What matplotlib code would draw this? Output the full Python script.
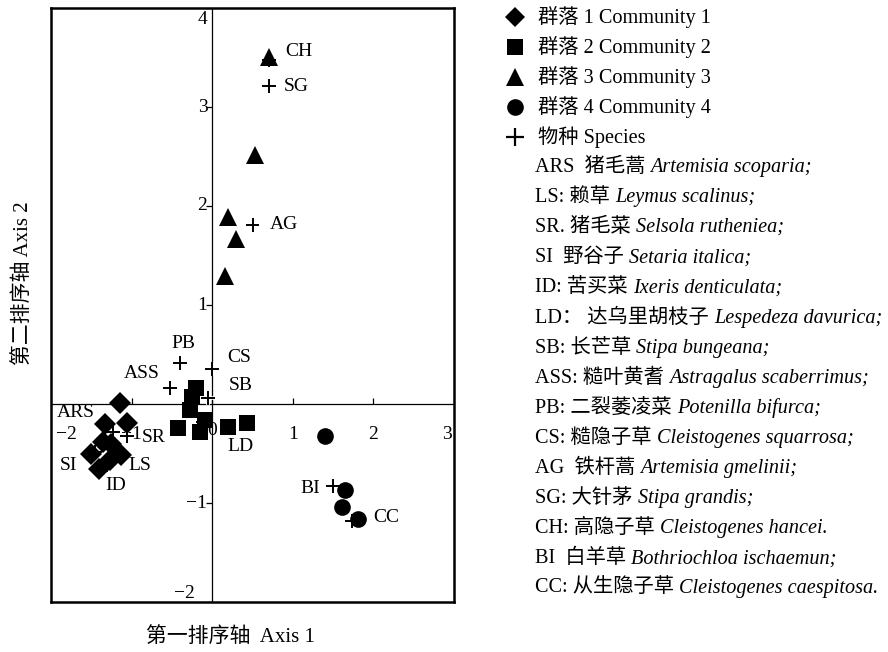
import matplotlib
matplotlib.use("Agg")
import matplotlib.pyplot as plt
import matplotlib.patheffects as pe
from matplotlib.markers import TICKLEFT, TICKUP

plt.rcParams['font.family'] = ['Liberation Serif', 'Noto Sans CJK SC']
plt.rcParams['font.size'] = 14

# DCA ordination scores of the sample plots, by community
c1_x = [-1.14, -1.33, -1.06, -1.25, -1.50, -1.13, -1.40, -1.27, -1.35]
c1_y = [0.01, -0.20, -0.19, -0.40, -0.50, -0.52, -0.66, -0.57, -0.38]
c2_x = [-0.43, -0.25, -0.20, -0.27, -0.15, 0.20, 0.43, -0.09]
c2_y = [-0.24, 0.07, 0.16, -0.06, -0.28, -0.23, -0.19, -0.16]
c3_x = [0.70, 0.53, 0.20, 0.30, 0.16]
c3_y = [3.51, 2.52, 1.89, 1.67, 1.29]
c4_x = [1.40, 1.65, 1.61, 1.81]
c4_y = [-0.32, -0.87, -1.04, -1.16]

# species scores
species = ['ARS', 'LS', 'SR', 'SI', 'ID', 'LD', 'SB', 'ASS', 'PB', 'CS',
           'AG', 'SG', 'CH', 'BI', 'CC']
sp_x = [-1.23, -1.14, -1.06, -1.45, -1.30, -0.12, -0.05, -0.52, -0.40, 0.00,
        0.50, 0.70, 0.70, 1.50, 1.74]
sp_y = [-0.28, -0.52, -0.32, -0.48, -0.62, -0.18, 0.06, 0.16, 0.41, 0.35,
        1.81, 3.21, 3.47, -0.83, -1.18]
# where each species code is written
lab_x = [-1.93, -1.04, -0.87, -1.89, -1.33, 0.19, 0.20, -0.65, -0.36, 0.19,
         0.72, 0.89, 0.91, 1.34, 2.00]
lab_y = [-0.09, -0.62, -0.34, -0.62, -0.82, -0.43, 0.19, 0.31, 0.61, 0.47,
         1.81, 3.21, 3.56, -0.85, -1.15]
lab_ha = ['left', 'left', 'left', 'left', 'left', 'left', 'left', 'right',
          'center', 'left', 'left', 'left', 'left', 'right', 'left']

x_ticks = [-2, -1, 0, 1, 2, 3]
y_ticks = [-2, -1, 1, 2, 3, 4]

communities = ['群落 1 Community 1', '群落 2 Community 2',
               '群落 3 Community 3', '群落 4 Community 4']
species_head = '物种 Species'
sp_cn = ['ARS  猪毛蒿 ', 'LS: 赖草 ', 'SR. 猪毛菜 ', 'SI  野谷子 ', 'ID: 苦买菜 ',
         'LD： 达乌里胡枝子 ', 'SB: 长芒草 ', 'ASS: 糙叶黄耆 ', 'PB: 二裂萎凌菜 ',
         'CS: 糙隐子草 ', 'AG  铁杆蒿 ', 'SG: 大针茅 ', 'CH: 高隐子草 ',
         'BI  白羊草 ', 'CC: 从生隐子草 ']
sp_latin = ['Artemisia scoparia;', 'Leymus scalinus;', 'Selsola rutheniea;',
            'Setaria italica;', 'Ixeris denticulata;', 'Lespedeza davurica;',
            'Stipa bungeana;', 'Astragalus scaberrimus;', 'Potenilla bifurca;',
            'Cleistogenes squarrosa;', 'Artemisia gmelinii;', 'Stipa grandis;',
            'Cleistogenes hancei.', 'Bothriochloa ischaemun;',
            'Cleistogenes caespitosa.']

fig = plt.figure(figsize=(8.88, 6.52), dpi=100)
ax = fig.add_axes([51 / 888, 50 / 652, 403 / 888, 594 / 652])
ax.set_xlim(-2, 3)
ax.set_ylim(-2, 4)
ax.set_xticks([])
ax.set_yticks([])
for s in ax.spines.values():
    s.set_linewidth(1.8)

# axes through the origin
ax.axhline(0, color='black', lw=0.9, zorder=1)
ax.axvline(0, color='black', lw=0.9, zorder=1)
ax.plot([0] * len(y_ticks), y_ticks, ls='none', marker=TICKLEFT, ms=4,
        mew=0.9, color='black', zorder=1)
ax.plot(x_ticks, [0] * len(x_ticks), ls='none', marker=TICKUP, ms=4,
        mew=0.9, color='black', zorder=1)
for v in x_ticks:
    if v == -2:
        ax.text(-1.81, -0.31, '−2', ha='center', va='center', zorder=1)
    elif v == 3:
        ax.text(2.91, -0.31, '3', ha='center', va='center', zorder=1)
    elif v == 0:
        ax.text(0.0, -0.27, '0', ha='center', va='center', zorder=1)
    else:
        ax.text(v, -0.31, '−1' if v == -1 else str(v), ha='center',
                va='center', zorder=1)
for v in y_ticks:
    if v == 4:
        ax.text(-0.06, 3.88, '4', ha='right', va='center')
    elif v == -2:
        ax.text(-0.21, -2.0, '−2', ha='right', va='bottom')
    else:
        ax.text(-0.06, v, '−1' if v == -1 else str(v), ha='right', va='center')

# species crosses sit under the plot symbols, with a thin white rim
halo = [pe.Stroke(linewidth=2.6, foreground='white'), pe.Normal()]
ax.plot(sp_x, sp_y, ls='none', marker='+', ms=10, color='black', mew=1.4,
        zorder=2, path_effects=halo)
ax.plot(c1_x, c1_y, ls='none', marker='D', ms=11, color='black', mew=0, zorder=3)
ax.plot(c2_x, c2_y, ls='none', marker='s', ms=11, color='black', mew=0, zorder=3)
ax.plot(c3_x, c3_y, ls='none', marker='^', ms=13, color='black', mew=0, zorder=3)
ax.plot(c4_x, c4_y, ls='none', marker='o', ms=12, color='black', mew=0, zorder=3)
for name, x, y, ha in zip(species, lab_x, lab_y, lab_ha):
    ax.text(x, y, name, ha=ha, va='center', zorder=5)

fig.text(23 / 888, 1 - 283 / 652, '第二排序轴 Axis 2', rotation=90,
         ha='center', va='center', fontsize=15)
fig.text(230 / 888, 1 - 637 / 652, '第一排序轴  Axis 1', ha='center',
         va='center', fontsize=15)

# legend column on the right, laid out in pixel units
lg = fig.add_axes([0, 0, 1, 1])
lg.set_xlim(0, 888)
lg.set_ylim(652, 0)
lg.axis('off')
row = 30.1
top = 17
fs = 14.6
for i, (mk, ms) in enumerate([('D', 10), ('s', 11), ('^', 13), ('o', 12)]):
    lg.plot([515], [top + i * row], ls='none', marker=mk, ms=ms,
            color='black', mew=0)
    lg.text(538, top + i * row, communities[i], ha='left', va='center',
            fontsize=fs)
lg.plot([515], [top + 4 * row], ls='none', marker='+', ms=13, mew=1.6,
        color='black')
lg.text(538, top + 4 * row, species_head, ha='left', va='center', fontsize=fs)

renderer = fig.canvas.get_renderer()
for k, (cn, lat) in enumerate(zip(sp_cn, sp_latin)):
    y = top + (5 + k) * row
    t = lg.text(535, y, cn, ha='left', va='center', fontsize=fs)
    x_end = t.get_window_extent(renderer).x1
    lg.text(x_end, y, lat, ha='left', va='center', style='italic',
            fontsize=fs)

fig.savefig('out.png', dpi=100)
